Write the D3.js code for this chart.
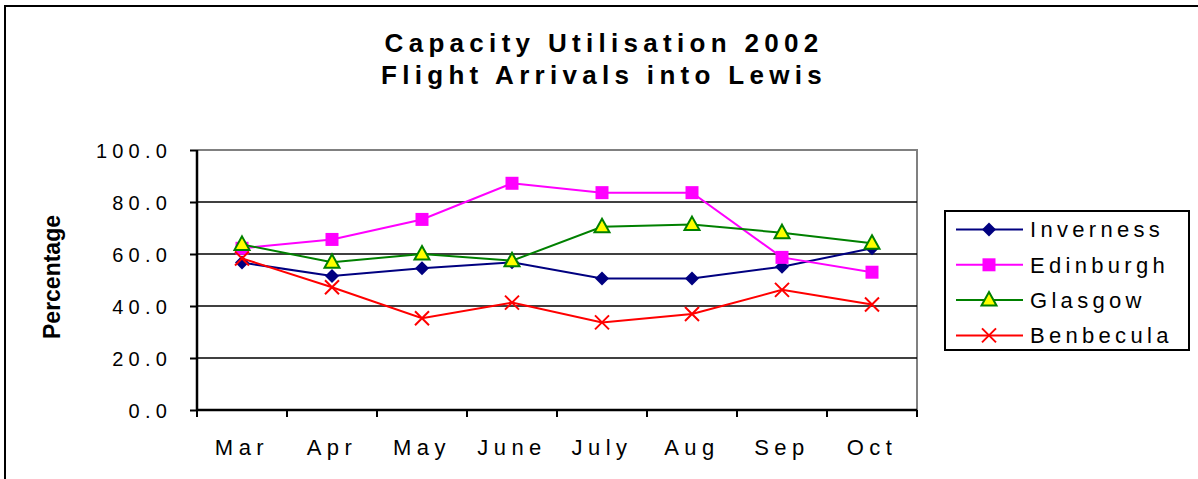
<!DOCTYPE html>
<html>
<head>
<meta charset="utf-8">
<script src="https://cdn.jsdelivr.net/npm/d3@7"></script>
<style>
  body { margin: 0; background: #fff; }
  text { font-family: "Liberation Sans", Arial, sans-serif; }
</style>
</head>
<body>
<svg id="chart"></svg>
<script>
// chart data
const months = ['Mar', 'Apr', 'May', 'June', 'July', 'Aug', 'Sep', 'Oct'];
const inverness = [56.7, 51.5, 54.5, 56.8, 50.6, 50.6, 55.1, 62.2];
const edinburgh = [62.2, 65.6, 73.3, 87.2, 83.6, 83.6, 58.7, 53.0];
const glasgow = [63.7, 56.8, 60.0, 57.4, 70.5, 71.3, 68.2, 64.1];
const benbecula = [58.3, 47.2, 35.3, 41.3, 33.7, 36.9, 46.2, 40.6];
const yTicks = [0, 20, 40, 60, 80, 100];

const series = [
    {name: 'Inverness', values: inverness, color: '#000080', marker: 'diamond'},
    {name: 'Edinburgh', values: edinburgh, color: '#ff00ff', marker: 'square'},
    {name: 'Glasgow', values: glasgow, color: '#008000', marker: 'triangle'},
    {name: 'Benbecula', values: benbecula, color: '#ff0000', marker: 'cross'}
];

const width = 1198, height = 479;
const margin = {top: 150, right: 281, bottom: 69, left: 197};
const inner_width = width - margin.left - margin.right;
const inner_height = height - margin.top - margin.bottom;

const svg = d3.select('#chart')
    .attr('width', width)
    .attr('height', height);

// outer chart border (runs off the right and bottom edges)
svg.append('rect')
    .attr('x', 5).attr('y', 6)
    .attr('width', width + 20).attr('height', height + 20)
    .attr('fill', 'none')
    .attr('stroke', '#000')
    .attr('stroke-width', 2);

// title
const title = svg.append('text')
    .attr('text-anchor', 'middle')
    .style('font-size', '26px')
    .style('font-weight', 'bold')
    .style('letter-spacing', '5.3px');
title.append('tspan').attr('x', 604).attr('y', 52).text('Capacity Utilisation 2002');
title.append('tspan').attr('x', 604).attr('y', 84).text('Flight Arrivals into Lewis');

const chart = svg.append('g')
    .attr('transform', `translate(${margin.left}, ${margin.top})`);

const xscale = d3.scaleBand()
    .domain(months)
    .range([0, inner_width]);

const yscale = d3.scaleLinear()
    .domain([0, 100])
    .range([inner_height, 0]);

// plot area frame (top and right in grey)
chart.append('path')
    .attr('d', `M0,0H${inner_width}V${inner_height}`)
    .attr('fill', 'none')
    .attr('stroke', '#808080')
    .attr('stroke-width', 2);

// gridlines
chart.append('g')
    .selectAll('line')
    .data(yTicks.filter(d => d > 0 && d < 100))
    .join('line')
    .attr('x1', 0).attr('x2', inner_width)
    .attr('y1', d => yscale(d)).attr('y2', d => yscale(d))
    .attr('stroke', '#000')
    .attr('stroke-width', 1.3);

// axes
const yaxis = d3.axisLeft(yscale)
    .tickValues(yTicks)
    .tickFormat(d3.format('.1f'))
    .tickSize(7)
    .tickPadding(18);

const yaxis_group = chart.append('g').call(yaxis);

const xaxis = d3.axisBottom(xscale)
    .tickSize(0)
    .tickPadding(29);

const xaxis_group = chart.append('g')
    .attr('transform', `translate(0, ${inner_height})`)
    .call(xaxis);

// x tick marks sit between the categories
chart.append('g')
    .attr('transform', `translate(0, ${inner_height})`)
    .selectAll('line')
    .data(d3.range(months.length + 1))
    .join('line')
    .attr('x1', i => i * xscale.step()).attr('x2', i => i * xscale.step())
    .attr('y1', 0).attr('y2', 7)
    .attr('stroke', '#000')
    .attr('stroke-width', 2);

[yaxis_group, xaxis_group].forEach(g => {
    g.select('.domain').attr('stroke', '#000').attr('stroke-width', 2.5);
    g.selectAll('.tick line').attr('stroke', '#000').attr('stroke-width', 2);
    g.selectAll('.tick text')
        .attr('fill', '#000')
        .style('font-family', '"Liberation Sans", Arial, sans-serif');
});
yaxis_group.select('.domain').attr('d', `M0,0V${inner_height}`);
xaxis_group.select('.domain').attr('d', `M0,0H${inner_width}`);
yaxis_group.selectAll('.tick text')
    .attr('dy', '0.35em')
    .style('font-size', '20px')
    .style('letter-spacing', '5.2px');
xaxis_group.selectAll('.tick text')
    .style('font-size', '22px')
    .style('letter-spacing', '5.5px');

// y label
svg.append('text')
    .attr('transform', 'translate(60, 277) rotate(-90)')
    .attr('text-anchor', 'middle')
    .style('font-size', '23px')
    .style('font-weight', 'bold')
    .text('Percentage');

// markers
const marker_paths = {
    diamond: 'M0,-7L7,0L0,7L-7,0Z',
    square: 'M-6.5,-6.5H6.5V6.5H-6.5Z',
    triangle: 'M0,-8L7.5,5.5H-7.5Z',
    cross: 'M-7,-7L7,7M-7,7L7,-7'
};

function draw_marker(g, s){
    const p = g.append('path').attr('d', marker_paths[s.marker]);
    if (s.marker === 'triangle'){
        p.attr('fill', '#ffff00').attr('stroke', s.color).attr('stroke-width', 2);
    } else if (s.marker === 'cross'){
        p.attr('fill', 'none').attr('stroke', s.color).attr('stroke-width', 2);
    } else {
        p.attr('fill', s.color).attr('stroke', 'none');
    }
}

const line = d3.line()
    .x((d, i) => xscale(months[i]) + xscale.bandwidth() / 2)
    .y(d => yscale(d));

series.forEach(s => {
    const g = chart.append('g');
    g.append('path')
        .attr('d', line(s.values))
        .attr('fill', 'none')
        .attr('stroke', s.color)
        .attr('stroke-width', 2);
    s.values.forEach((v, i) => {
        const m = g.append('g')
            .attr('transform', `translate(${xscale(months[i]) + xscale.bandwidth() / 2}, ${yscale(v)})`);
        draw_marker(m, s);
    });
});

// legend
const legend = svg.append('g').attr('transform', 'translate(945, 211)');
legend.append('rect')
    .attr('width', 244).attr('height', 139)
    .attr('fill', '#fff')
    .attr('stroke', '#000')
    .attr('stroke-width', 2);

series.forEach((s, i) => {
    const row = legend.append('g').attr('transform', `translate(0, ${18.5 + i * 35.3})`);
    row.append('line')
        .attr('x1', 11).attr('x2', 78)
        .attr('stroke', s.color)
        .attr('stroke-width', 2);
    const m = row.append('g').attr('transform', 'translate(44, 0)');
    draw_marker(m, s);
    row.append('text')
        .attr('x', 85).attr('dy', '0.35em')
        .style('font-size', '22px')
        .style('letter-spacing', '4.3px')
        .text(s.name);
});
</script>
</body>
</html>
